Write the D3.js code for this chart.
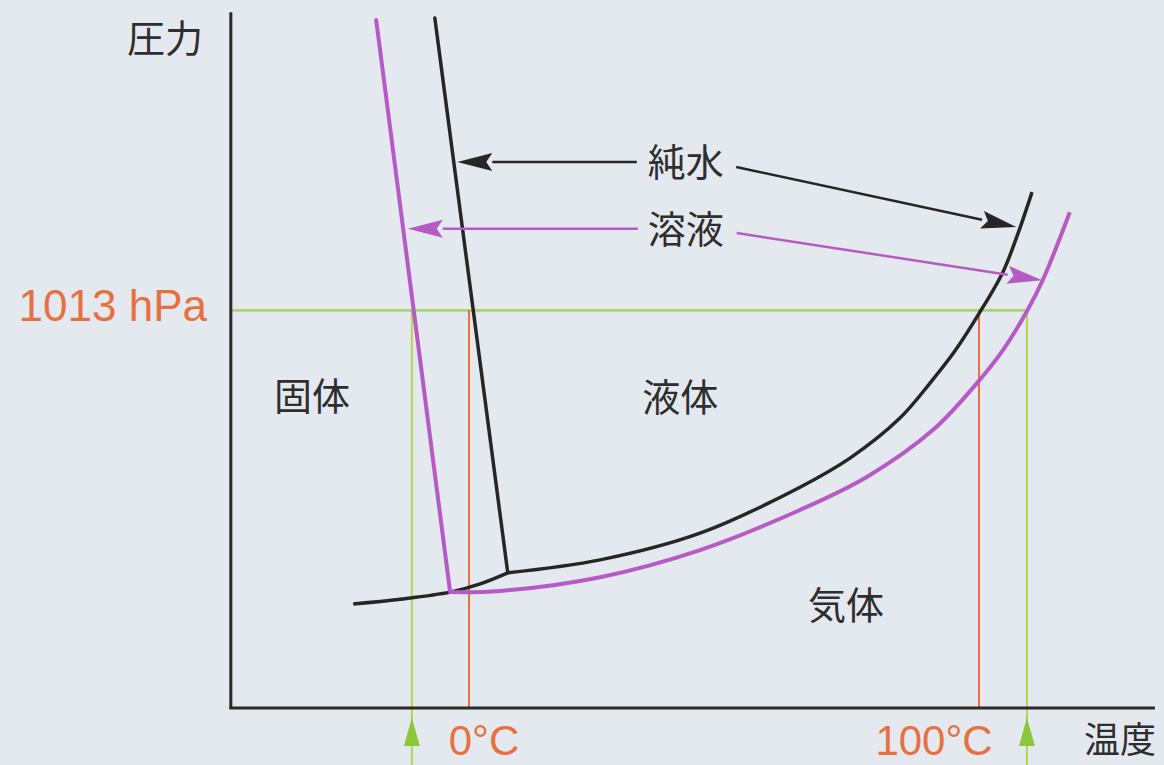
<!DOCTYPE html>
<html><head><meta charset="utf-8">
<script src="https://cdn.jsdelivr.net/npm/d3@7"></script>
<style>
html,body{margin:0;padding:0;background:#e4e8ef;}
svg{display:block;}
</style></head>
<body>
<svg id="chart" width="1164" height="765"></svg>
<script>
// ---- data (temperature in °C, pressure in hPa, schematic phase diagram) ----
const pureMelting = [[-6.7, 1756], [7.6, 344]];
const pureSublimation = [[-22.7, 265], [-13.5, 277], [-3.7, 295], [2.2, 316], [7.6, 344]];
const pureVaporization = [[7.6, 344], [25.7, 377], [45.3, 445], [64.9, 562], [74.7, 636], [84.5, 738], [90.4, 827], [95.3, 909], [100.2, 1008], [104.7, 1110], [107.6, 1206], [110.4, 1313]];
const solFreezing = [[-18.2, 1751], [-3.7, 295]];
const solVaporization = [[-3.7, 295], [6.1, 298], [25.7, 333], [45.3, 402], [64.9, 504], [78.0, 588], [91.0, 708], [99.6, 827], [104.7, 911], [109.4, 1010], [112.5, 1089], [117.8, 1262]];

const atmPressure = 1013;
const pureFreeze = 0, pureBoil = 100;
const solFreeze = -11.2, solBoil = 109.4;

const xTickLabels = [{t: 0, text: "0°C"}, {t: 100, text: "100°C"}];
const yTickLabels = [{p: 1013, text: "1013 hPa"}];

const phaseLabels = [
  {t: -30.8, p: 800, text: "固体"},
  {t: 41.4, p: 797, text: "液体"},
  {t: 73.9, p: 268, text: "気体"}
];
const legendLabels = [
  {t: 42.5, p: 1397, text: "純水"},
  {t: 42.5, p: 1225, text: "溶液"}
];
const pointerArrows = [
  {series: "pure", from: [32.9, 1390], to: [-2.3, 1390]},
  {series: "pure", from: [52.4, 1377], to: [107.3, 1224]},
  {series: "sol", from: [33.1, 1220], to: [-12.0, 1220]},
  {series: "sol", from: [52.5, 1209], to: [112.4, 1089]}
];
const xDomain = [-46.7, 134.5];
const yDomain = [0, 1771];

// ---- scales ----
const W = 1164, H = 765;
const x = d3.scaleLinear().domain([0, 100]).range([469, 979]);
const y = d3.scaleLinear().domain([0, 1013]).range([708, 310]);

const C = {
  pure: "#262626", sol: "#b65ac6", orange: "#e8703f", green: "#b7d64f", text: "#2e2e2e", axis: "#2a2a2a"
};

const svg = d3.select("#chart");
svg.append("rect").attr("width", W).attr("height", H).attr("fill", "#e4e8ef");

const line = d3.line().x(d => x(d[0])).y(d => y(d[1]));
const smooth = d3.line().x(d => x(d[0])).y(d => y(d[1])).curve(d3.curveCatmullRom.alpha(0.5));

// ---- reference lines ----
const bottomP = y.invert(H + 2);
svg.append("line")
  .attr("x1", x(xDomain[0])).attr("x2", x(solBoil))
  .attr("y1", y(atmPressure) + 1.5).attr("y2", y(atmPressure) + 1.5)
  .attr("stroke", "#9fd6dc").attr("stroke-width", 1.2);
svg.append("line")
  .attr("x1", x(xDomain[0])).attr("x2", x(solBoil))
  .attr("y1", y(atmPressure)).attr("y2", y(atmPressure))
  .attr("stroke", C.green).attr("stroke-width", 2.2);

[solFreeze, solBoil].forEach(t => {
  svg.append("line")
    .attr("x1", x(t)).attr("x2", x(t))
    .attr("y1", y(atmPressure)).attr("y2", y(bottomP))
    .attr("stroke", C.green).attr("stroke-width", 2);
  const tipY = y(-25), baseY = y(-97);
  svg.append("path")
    .attr("d", `M${x(t)},${tipY} L${x(t) - 8},${baseY} L${x(t) + 8},${baseY} Z`)
    .attr("fill", "#8cc63a");
});

[pureFreeze, pureBoil].forEach(t => {
  svg.append("line")
    .attr("x1", x(t)).attr("x2", x(t))
    .attr("y1", y(atmPressure)).attr("y2", y(0))
    .attr("stroke", C.orange).attr("stroke-width", 2);
});

// ---- axes ----
svg.append("line")
  .attr("x1", x(xDomain[0])).attr("x2", x(xDomain[0]))
  .attr("y1", y(yDomain[1])).attr("y2", y(0))
  .attr("stroke", C.axis).attr("stroke-width", 3);
svg.append("line")
  .attr("x1", x(xDomain[0]) - 1.5).attr("x2", x(xDomain[1]))
  .attr("y1", y(0)).attr("y2", y(0))
  .attr("stroke", C.axis).attr("stroke-width", 3);

// ---- curves ----
svg.append("path").datum(pureSublimation).attr("d", smooth)
  .attr("fill", "none").attr("stroke", C.pure).attr("stroke-width", 3.5);
svg.append("path").datum(pureVaporization).attr("d", smooth)
  .attr("fill", "none").attr("stroke", C.pure).attr("stroke-width", 3.5);
svg.append("path").datum(pureMelting).attr("d", line)
  .attr("fill", "none").attr("stroke", C.pure).attr("stroke-width", 3.5).attr("stroke-linecap", "round");

svg.append("path").datum(solVaporization).attr("d", smooth)
  .attr("fill", "none").attr("stroke", C.sol).attr("stroke-width", 4);
svg.append("path").datum(solFreezing).attr("d", line)
  .attr("fill", "none").attr("stroke", C.sol).attr("stroke-width", 4).attr("stroke-linecap", "round");

// ---- pointer arrows ----
pointerArrows.forEach(a => {
  const col = a.series === "pure" ? C.pure : C.sol;
  const x1 = x(a.from[0]), y1 = y(a.from[1]), x2 = x(a.to[0]), y2 = y(a.to[1]);
  const ang = Math.atan2(y2 - y1, x2 - x1);
  const hl = 35, hw = 9;
  const bx = x2 - hl * Math.cos(ang), by = y2 - hl * Math.sin(ang);
  svg.append("line").attr("x1", x1).attr("y1", y1).attr("x2", bx).attr("y2", by)
    .attr("stroke", col).attr("stroke-width", 2.5);
  const px = -Math.sin(ang) * hw, py = Math.cos(ang) * hw;
  svg.append("path")
    .attr("d", `M${x2},${y2} L${bx + px},${by + py} L${bx + 6 * Math.cos(ang)},${by + 6 * Math.sin(ang)} L${bx - px},${by - py} Z`)
    .attr("fill", col);
});

// ---- text ----
const cjk = "'Noto Sans CJK JP', 'Noto Sans CJK SC', sans-serif";
const latin = "'Liberation Sans', Arial, Helvetica, sans-serif";

svg.selectAll(".phase").data(phaseLabels.concat(legendLabels)).enter().append("text")
  .attr("x", d => x(d.t)).attr("y", d => y(d.p))
  .attr("text-anchor", "middle").attr("dominant-baseline", "central")
  .attr("font-family", cjk).attr("font-size", 38).attr("fill", C.text)
  .text(d => d.text);

svg.append("text").attr("x", 165).attr("y", 35)
  .attr("text-anchor", "middle").attr("dominant-baseline", "central")
  .attr("font-family", cjk).attr("font-size", 38).attr("fill", C.text).text("圧力");
svg.append("text").attr("x", 1120).attr("y", 737)
  .attr("text-anchor", "middle").attr("dominant-baseline", "central")
  .attr("font-family", cjk).attr("font-size", 36).attr("fill", C.text).text("温度");

svg.selectAll(".xt").data(xTickLabels).enter().append("text")
  .attr("x", (d, i) => i === 0 ? x(d.t) + 15 : x(d.t) - 45)
  .attr("y", 755)
  .attr("text-anchor", "middle")
  .attr("font-family", latin).attr("font-size", 42).attr("fill", C.orange)
  .text(d => d.text);
svg.selectAll(".yt").data(yTickLabels).enter().append("text")
  .attr("x", 207).attr("y", y(1013) + 11)
  .attr("text-anchor", "end")
  .attr("font-family", latin).attr("font-size", 44).attr("fill", C.orange)
  .text(d => d.text);
</script>
</body></html>
